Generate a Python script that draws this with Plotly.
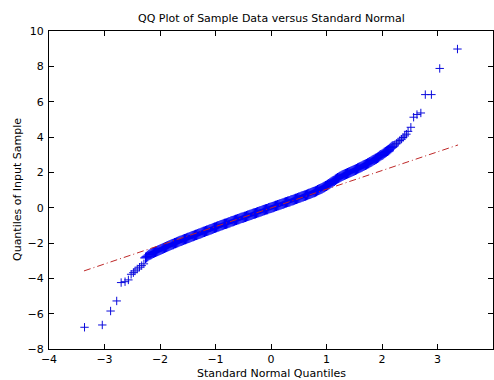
import plotly.graph_objects as go

# ---- data ----
# theoretical (standard normal) quantiles and sample quantiles
lower_tail_q = [-3.36, -3.04, -2.89, -2.78, -2.70, -2.63, -2.57, -2.52, -2.48, -2.45, -2.41, -2.37, -2.33, -2.29]
lower_tail_y = [-6.77, -6.64, -5.85, -5.28, -4.24, -4.19, -4.09, -3.77, -3.68, -3.58, -3.47, -3.37, -3.28, -3.18]

band_q = [-2.26, -2.24, -2.22, -2.20, -2.18, -2.16, -2.14, -2.12, -2.10, -2.08, -2.06, -2.04, -2.02, -2.00,
          -1.98, -1.96, -1.94, -1.92, -1.90, -1.88, -1.86, -1.84, -1.82, -1.80, -1.78, -1.76, -1.74, -1.72, -1.70,
          -1.68, -1.66, -1.64, -1.62, -1.60, -1.58, -1.56, -1.54, -1.52, -1.50, -1.48, -1.46, -1.44, -1.42, -1.40,
          -1.38, -1.36, -1.34, -1.32, -1.30, -1.28, -1.26, -1.24, -1.22, -1.20, -1.18, -1.16, -1.14, -1.12, -1.10,
          -1.08, -1.06, -1.04, -1.02, -1.00, -0.98, -0.96, -0.94, -0.92, -0.90, -0.88, -0.86, -0.84, -0.82, -0.80,
          -0.78, -0.76, -0.74, -0.72, -0.70, -0.68, -0.66, -0.64, -0.62, -0.60, -0.58, -0.56, -0.54, -0.52, -0.50,
          -0.48, -0.46, -0.44, -0.42, -0.40, -0.38, -0.36, -0.34, -0.32, -0.30, -0.28, -0.26, -0.24, -0.22, -0.20,
          -0.18, -0.16, -0.14, -0.12, -0.10, -0.08, -0.06, -0.04, -0.02, 0.00,
          0.02, 0.04, 0.06, 0.08, 0.10, 0.12, 0.14, 0.16, 0.18, 0.20, 0.22, 0.24, 0.26, 0.28, 0.30,
          0.32, 0.34, 0.36, 0.38, 0.40, 0.42, 0.44, 0.46, 0.48, 0.50, 0.52, 0.54, 0.56, 0.58, 0.60,
          0.62, 0.64, 0.66, 0.68, 0.70, 0.72, 0.74, 0.76, 0.78, 0.80, 0.82, 0.84, 0.86, 0.88, 0.90,
          0.92, 0.94, 0.96, 0.98, 1.00, 1.02, 1.04, 1.06, 1.08, 1.10, 1.12, 1.14, 1.16, 1.18, 1.20,
          1.22, 1.24, 1.26, 1.28, 1.30, 1.32, 1.34, 1.36, 1.38, 1.40, 1.42, 1.44, 1.46, 1.48, 1.50,
          1.52, 1.54, 1.56, 1.58, 1.60, 1.62, 1.64, 1.66, 1.68, 1.70, 1.72, 1.74, 1.76, 1.78, 1.80,
          1.82, 1.84, 1.86, 1.88, 1.90, 1.92, 1.94, 1.96, 1.98, 2.00, 2.02, 2.04, 2.06, 2.08, 2.10,
          2.12, 2.14, 2.16, 2.18, 2.20]
band_y = [-2.84, -2.79, -2.74, -2.68, -2.65, -2.62, -2.58, -2.55, -2.52, -2.49, -2.46, -2.44, -2.41, -2.38,
          -2.35, -2.32, -2.30, -2.27, -2.24, -2.21, -2.18, -2.16, -2.13, -2.10, -2.07, -2.05, -2.02, -2.00, -1.97,
          -1.94, -1.92, -1.89, -1.87, -1.84, -1.82, -1.79, -1.77, -1.74, -1.72, -1.70, -1.67, -1.65, -1.62, -1.60,
          -1.58, -1.55, -1.53, -1.50, -1.48, -1.46, -1.43, -1.41, -1.38, -1.36, -1.34, -1.31, -1.29, -1.26, -1.24,
          -1.22, -1.19, -1.17, -1.14, -1.12, -1.10, -1.07, -1.05, -1.02, -1.00, -0.98, -0.95, -0.93, -0.91, -0.89,
          -0.87, -0.84, -0.82, -0.79, -0.77, -0.75, -0.72, -0.70, -0.68, -0.66, -0.64, -0.62, -0.59, -0.57, -0.55,
          -0.53, -0.51, -0.48, -0.46, -0.44, -0.42, -0.40, -0.37, -0.35, -0.33, -0.31, -0.29, -0.26, -0.24, -0.22,
          -0.20, -0.18, -0.15, -0.13, -0.11, -0.09, -0.07, -0.04, -0.02, 0.00,
          0.02, 0.04, 0.07, 0.09, 0.11, 0.13, 0.15, 0.18, 0.20, 0.22, 0.24, 0.26, 0.29, 0.31, 0.33,
          0.35, 0.37, 0.40, 0.42, 0.44, 0.46, 0.49, 0.51, 0.54, 0.56, 0.58, 0.60, 0.63, 0.65, 0.67,
          0.69, 0.72, 0.74, 0.77, 0.79, 0.82, 0.84, 0.87, 0.89, 0.92, 0.95, 0.98, 1.01, 1.04, 1.07,
          1.10, 1.14, 1.17, 1.21, 1.24, 1.28, 1.32, 1.37, 1.41, 1.45, 1.49, 1.53, 1.58, 1.62, 1.66,
          1.69, 1.73, 1.76, 1.80, 1.83, 1.86, 1.89, 1.92, 1.95, 1.98, 2.01, 2.04, 2.06, 2.09, 2.12,
          2.15, 2.18, 2.21, 2.24, 2.27, 2.30, 2.33, 2.37, 2.40, 2.43, 2.46, 2.50, 2.53, 2.57, 2.60,
          2.64, 2.68, 2.71, 2.75, 2.79, 2.83, 2.87, 2.92, 2.96, 3.00, 3.04, 3.09, 3.13, 3.18, 3.22,
          3.27, 3.32, 3.38, 3.43, 3.48]

upper_tail_q = [2.23, 2.26, 2.29, 2.32, 2.35, 2.38, 2.41, 2.44, 2.47, 2.52, 2.57, 2.63, 2.70, 2.78, 2.89, 3.04, 3.36]
upper_tail_y = [3.56, 3.64, 3.72, 3.80, 3.88, 3.97, 4.06, 4.16, 4.32, 4.55, 5.12, 5.27, 5.36, 6.40, 6.40, 7.88, 8.98]

# reference line (through the quartiles, over the data range)
ref_q = [-3.37, 3.37]
ref_y = [-3.58, 3.55]

x_ticks = [-4, -3, -2, -1, 0, 1, 2, 3, 4]
y_ticks = [-8, -6, -4, -2, 0, 2, 4, 6, 8, 10]

FONT = "DejaVu Sans, Liberation Sans, Arial, sans-serif"
BLUE = "rgb(0,0,245)"

fig = go.Figure()
# dense central band of points
fig.add_trace(go.Scatter(
    x=band_q, y=band_y, mode="markers",
    marker=dict(symbol="cross-thin", size=7.5, color=BLUE, line=dict(color=BLUE, width=1.2)),
    showlegend=False, hoverinfo="skip"))
# sparse tails
fig.add_trace(go.Scatter(
    x=lower_tail_q + upper_tail_q, y=lower_tail_y + upper_tail_y, mode="markers",
    marker=dict(symbol="cross-thin", size=6, color="rgb(10,10,220)",
                line=dict(color="rgb(10,10,220)", width=1)),
    showlegend=False, hoverinfo="skip"))
fig.add_trace(go.Scatter(
    x=ref_q, y=ref_y, mode="lines",
    line=dict(color="rgb(190,40,40)", width=1, dash="7px,3px,1px,3px"),
    showlegend=False, hoverinfo="skip"))

axis_common = dict(showgrid=False, zeroline=False, showline=True, linecolor="black",
                   linewidth=1, mirror="ticks", ticks="inside", ticklen=5,
                   tickcolor="black", tickwidth=1,
                   tickfont=dict(family=FONT, size=11, color="black"))

fig.update_layout(
    width=494, height=380,
    margin=dict(l=49, r=1, t=31, b=31, pad=0),
    paper_bgcolor="white", plot_bgcolor="white",
    xaxis=dict(range=[-4, 4], tickvals=x_ticks, **axis_common),
    yaxis=dict(range=[-8, 10], tickvals=y_ticks, ticklabelstandoff=2, **axis_common),
    font=dict(family=FONT, size=11, color="black"),
    annotations=[
        dict(text="QQ Plot of Sample Data versus Standard Normal", xref="paper", yref="paper",
             x=0.5, y=(349 - 18.5) / 318, xanchor="center", yanchor="middle", showarrow=False,
             font=dict(family=FONT, size=11, color="black")),
        dict(text="Standard Normal Quantiles", xref="paper", yref="paper",
             x=0.5, y=(349 - 373) / 318, xanchor="center", yanchor="middle", showarrow=False,
             font=dict(family=FONT, size=11, color="black")),
        dict(text="Quantiles of Input Sample", xref="paper", yref="paper",
             x=(17 - 49) / 444, y=0.5, xanchor="center", yanchor="middle", showarrow=False,
             textangle=-90, font=dict(family=FONT, size=11, color="black")),
    ],
)

fig.write_html("out.html")
